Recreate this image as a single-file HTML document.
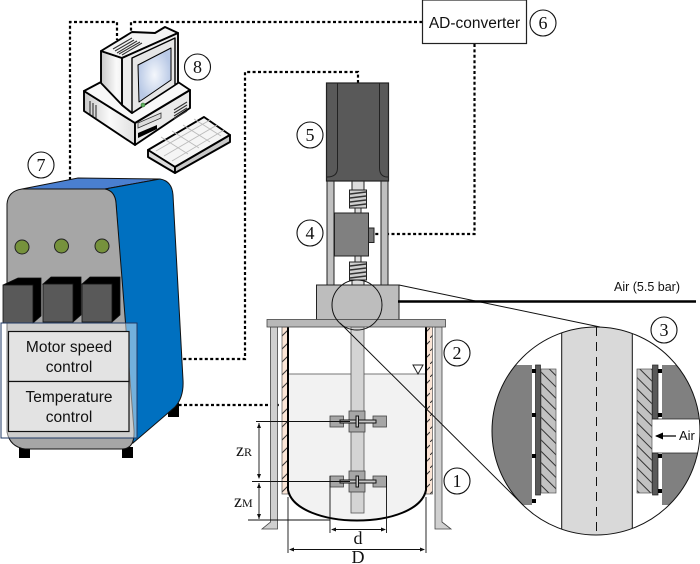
<!DOCTYPE html>
<html><head><meta charset="utf-8"><style>html,body{margin:0;padding:0;background:#fff}svg{display:block}
text{font-family:"Liberation Sans",sans-serif;fill:#111}
.n{font-family:"Liberation Serif",serif;font-size:18px;text-anchor:middle}
.s{font-family:"Liberation Serif",serif;font-size:18px}
.d{fill:none;stroke:#000;stroke-width:2.200;stroke-dasharray:3 2.400}
</style></head><body>
<svg width="700" height="564" viewBox="0 0 700 564" xmlns="http://www.w3.org/2000/svg">
<defs>
<pattern id="h1" width="8" height="8" patternUnits="userSpaceOnUse" patternTransform="rotate(45)"><rect width="8" height="8" fill="#c2c2c2"/><rect width="8" height="1" fill="#333"/></pattern>
<pattern id="jk" width="10" height="13" patternUnits="userSpaceOnUse"><rect width="10" height="13" fill="#fbe5d6"/><path d="M0 13L10 3" stroke="#333" stroke-width="1"/></pattern>
<radialGradient id="scr"><stop offset="0" stop-color="#f4f7fc"/><stop offset="1" stop-color="#b9c9e6"/></radialGradient>
<linearGradient id="gb" x1="0" x2="1"><stop offset="0" stop-color="#c8c8c8"/><stop offset=".5" stop-color="#fafafa"/><stop offset="1" stop-color="#e0e0e0"/></linearGradient>
<clipPath id="cc"><circle cx="596" cy="431" r="104"/></clipPath>
</defs>

<!-- dotted wires -->
<path class="d" d="M70 180V22H117V40"/>
<path class="d" d="M131 36V22H423"/>
<path class="d" d="M474.500 44V234H374"/>
<path class="d" d="M358 83V72H245V359H130"/>
<path class="d" d="M130 405H279"/>

<!-- AD converter -->
<rect x="422.500" y="0" width="104" height="43.500" fill="#fff" stroke="#222" stroke-width="1.200"/>
<text x="474.500" y="28" font-size="15.500" text-anchor="middle">AD-converter</text>

<!-- Computer -->
<g stroke="#000" stroke-width="1.900" stroke-linejoin="round">
<polygon points="84,91 135,123 135,145 84,111" fill="url(#gb)"/>
<polygon points="135,123 190,90 190,108 135,145" fill="#eaeaea"/>
<polygon points="84,91 101,82 178,82 190,90 135,123" fill="#f8f8f8"/>
<polygon points="101,51 122,58 132,113 122,105 101,83" fill="url(#gb)"/>
<polygon points="101,51 132,32 155,33 165,27 178,33 122,58" fill="#f3f3f3"/>
<polygon points="122,58 178,33 178,83 132,113 122,105" fill="#ededed"/>
<polygon points="132,58 175,38 175,85 132,113" fill="#e6e6e6" stroke-width="1.400"/>
<polygon points="138,65 171,48 171,80 139,102" fill="url(#scr)" stroke-width="1"/>
<polygon points="148,150 204,117 230,135 175,167" fill="#f5f5f5"/>
<polygon points="148,150 175,167 175,173 148,157" fill="#dcdcdc"/>
<polygon points="175,167 230,135 230,142 175,173" fill="#c9c9c9"/>
</g>
<circle cx="143" cy="105" r="2" fill="#5fb05f" stroke="#2b6b2b" stroke-width=".6"/>
<g stroke="#333" stroke-width="1.100">
<path d="M113 49L132 38M115 51L134 40M117 53L137 41M119 54L140 42M122 55L142 43"/>
<path d="M174 110L187 102M174 113L187 105M174 116L187 108M174 119L187 111"/>
<path d="M90 101V114M93 103V116M96 105V118"/>
</g>
<polygon points="138,123 161,113 161,118 138,128" fill="#ddd" stroke="#333" stroke-width=".8"/>
<polygon points="138,133 157,125 157,129 138,138" fill="#000"/>
<g stroke="#bbb" stroke-width=".9">
<path d="M156 151L210 120M164 156L217 125M172 161L224 130M161 137L188 154M172 131L199 148M183 125L210 142M194 119L221 136"/>
</g>

<!-- Control cabinet -->
<rect x="19" y="447" width="11" height="11" fill="#000"/>
<rect x="122" y="447" width="11" height="11" fill="#000"/>
<rect x="168" y="403" width="11" height="14" fill="#000"/>
<path d="M22 189L78 178L160 179L105 189Z" fill="#4a7fd0" stroke="#111" stroke-width="1"/>
<path d="M105 189L160 179Q172 181 173 195L183 380Q184 397 175 407L133 443L116 203Q115 191 105 189Z" fill="#0070c0" stroke="#111" stroke-width="1"/>
<path d="M22 189H105Q115 191 116 203L134 430Q135 449 122 449H25Q10 447 7 432V204Q8 191 22 189Z" fill="#a6a6a6" stroke="#111" stroke-width="1"/>
<g fill="#76923c" stroke="#222" stroke-width="1"><circle cx="22" cy="247" r="7"/><circle cx="61.500" cy="246" r="7"/><circle cx="102" cy="246" r="7"/></g>
<g stroke="#111" stroke-width=".8">
<path d="M3 285L18 278H41V316L33 323V285Z" fill="#000"/><rect x="3" y="285" width="30" height="38" fill="#595959"/>
<path d="M43 284L51 277H81V315L73 322V284Z" fill="#000"/><rect x="43" y="284" width="30" height="38" fill="#595959"/>
<path d="M82 284L90 277H120V315L112 322V284Z" fill="#000"/><rect x="82" y="284" width="30" height="38" fill="#595959"/>
</g>
<rect x="1" y="323" width="136" height="115" fill="#fff" fill-opacity=".45" stroke="#1f3864" stroke-width="1"/>
<rect x="8.500" y="331.500" width="120.500" height="50" fill="#e3e3e3" stroke="#111" stroke-width="1.200"/>
<rect x="8.500" y="381.500" width="120.500" height="50" fill="#e3e3e3" stroke="#111" stroke-width="1.200"/>
<g font-size="15.500" text-anchor="middle">
<text x="69" y="352">Motor speed</text><text x="69" y="372">control</text>
<text x="69" y="402">Temperature</text><text x="69" y="422">control</text>
</g>

<!-- Stirrer column -->
<g stroke="#222" stroke-width="1">
<rect x="327" y="181" width="7" height="104" fill="#c0c0c0"/>
<rect x="381" y="181" width="7" height="104" fill="#c0c0c0"/>
<rect x="352" y="181" width="12" height="10" fill="#dcdcdc"/>
<rect x="349.500" y="190" width="17" height="18" fill="#cfcfcf"/>
<path d="M350 194L366 192M350 198L366 196M350 202L366 200M350 206L366 204" stroke="#333" stroke-width="1.500"/>
<rect x="355" y="208" width="6" height="5" fill="#dcdcdc"/>
<rect x="355" y="256" width="6" height="6" fill="#dcdcdc"/>
<rect x="349.500" y="262" width="17" height="18" fill="#cfcfcf"/>
<path d="M350 266L366 264M350 270L366 268M350 274L366 272M350 278L366 276" stroke="#333" stroke-width="1.500"/>
<rect x="352" y="280" width="12" height="5" fill="#dcdcdc"/>
<rect x="334.500" y="213" width="34" height="43" fill="#808080"/>
<rect x="368.500" y="228" width="5.500" height="14.500" fill="#777"/>
<rect x="326.500" y="83" width="62" height="98" fill="#595959" stroke-width="1.200"/>
<path d="M337.500 83V168Q337.500 177 327 177M379.500 83V168Q379.500 177 388 177" fill="none"/>
<rect x="316.500" y="285" width="82.500" height="35" fill="#bdbdbd"/>
</g>

<!-- Vessel -->
<rect x="282" y="327" width="6" height="167" fill="url(#jk)" stroke="#555" stroke-width=".7"/>
<rect x="426" y="327" width="6.500" height="167" fill="url(#jk)" stroke="#555" stroke-width=".7"/>
<path d="M288 374H426V490C422 510 390 520.500 357 520.500C325 520.500 292 510 288 490Z" fill="#f2f2f2"/>
<path d="M288 374H426" stroke="#777" stroke-width="1"/>
<rect x="351" y="327" width="13" height="186" fill="#d4d4d4" stroke="#555" stroke-width=".8"/>
<path d="M288 327V490C292 510 325 520.500 357 520.500C390 520.500 422 510 426 490V327" fill="none" stroke="#000" stroke-width="2"/>
<g stroke="#444" stroke-width=".8">
<path d="M270.500 327H277.500V529H262L270.500 522Z" fill="#d0d0d0"/>
<path d="M435 327H442V522L451 529H435Z" fill="#d0d0d0"/>
<rect x="267" y="319.500" width="178.500" height="7.500" fill="#b8b8b8"/>
</g>
<polygon points="413,365 423,365 418,374" fill="#fff" stroke="#222" stroke-width="1"/>
<!-- impellers -->
<g stroke="#444" stroke-width=".8" fill="#a6a6a6">
<rect x="349" y="411" width="16" height="21"/><rect x="330" y="416" width="13.500" height="11"/><rect x="373" y="416" width="13.500" height="11"/>
<rect x="349" y="471" width="16" height="21"/><rect x="330" y="476" width="13.500" height="11"/><rect x="373" y="476" width="13.500" height="11"/>
</g>
<g stroke="#111" stroke-width="1" fill="#c8c8c8">
<rect x="340" y="420" width="36" height="3"/><rect x="356" y="416" width="2.500" height="11"/>
<rect x="340" y="480" width="36" height="3"/><rect x="356" y="476" width="2.500" height="11"/>
</g>
<!-- dimensions -->
<g stroke="#111" stroke-width=".9" fill="none">
<path d="M256 421.500H350M252 481.500H350M248 520H330"/>
<path d="M259 423V478M259 483V519"/>
<path d="M330 476V533M386.500 476V533"/>
<path d="M332 529.500H385"/>
<path d="M288 497V553M426 497V553"/>
<path d="M290 549.500H424"/>
</g>
<g fill="#111">
<path d="M259 423l-2 5h4zM259 479l-2-5h4zM259 483l-2 5h4zM259 519l-2-5h4z"/>
<path d="M331 529.500l5-2v4zM386 529.500l-5-2v4z"/>
<path d="M289 549.500l5-2v4zM425 549.500l-5-2v4z"/>
</g>
<text class="s" x="236" y="456">z<tspan font-size="12">R</tspan></text>
<text class="s" x="234" y="507">z<tspan font-size="12">M</tspan></text>
<text class="s" x="358" y="544" text-anchor="middle">d</text>
<text class="s" x="358" y="563" text-anchor="middle">D</text>

<!-- Zoom callout -->
<path d="M399 285L600 327M340 323L523 505" stroke="#111" stroke-width="1" fill="none"/>
<circle cx="357" cy="305" r="25" fill="none" stroke="#111" stroke-width="1"/>
<path d="M398 301.500H696" stroke="#000" stroke-width="2.500"/>
<text x="647" y="291" font-size="12.500" text-anchor="middle">Air (5.5 bar)</text>

<!-- Detail circle -->
<circle cx="596" cy="431" r="104" fill="#fff"/>
<g clip-path="url(#cc)">
<rect x="480" y="365" width="52" height="140" fill="#808080"/>
<rect x="662" y="365" width="40" height="54" fill="#808080"/>
<rect x="662" y="453" width="40" height="52" fill="#808080"/>
<rect x="561.700" y="320" width="70.600" height="220" fill="#d9d9d9" stroke="#111" stroke-width="1"/>
<path d="M596.500 327V535" stroke="#111" stroke-width="1" stroke-dasharray="9 6"/>
<rect x="541" y="369" width="15" height="124" fill="url(#h1)" stroke="#555" stroke-width=".7"/>
<rect x="637" y="369" width="15" height="124" fill="url(#h1)" stroke="#555" stroke-width=".7"/>
<rect x="535.500" y="365" width="5" height="130" fill="#595959" stroke="#222" stroke-width=".7"/>
<rect x="652.500" y="365" width="5.500" height="54" fill="#595959" stroke="#222" stroke-width=".7"/>
<rect x="652.500" y="453" width="5.500" height="42" fill="#595959" stroke="#222" stroke-width=".7"/>
<g fill="#000">
<rect x="532" y="369" width="4" height="4"/><rect x="532" y="413" width="4" height="4"/><rect x="532" y="454" width="4" height="4"/><rect x="532" y="499" width="4" height="4"/>
<rect x="658" y="369" width="4" height="4"/><rect x="658" y="413" width="4" height="4"/><rect x="658" y="454" width="4" height="4"/><rect x="658" y="489" width="4" height="4"/>
</g>
<path d="M652 419H702M652 453H702" stroke="#222" stroke-width=".8"/>
<path d="M656 436H676" stroke="#000" stroke-width="1.300"/>
<path d="M655 436l8-3.500v7z" fill="#000"/>
<text x="679" y="440" font-size="13">Air</text>
</g>
<circle cx="596" cy="431" r="104" fill="none" stroke="#111" stroke-width="1"/>

<!-- Number markers -->
<g fill="#fff" stroke="#111" stroke-width="1.100">
<circle cx="197.500" cy="67" r="13"/><circle cx="41" cy="165" r="13"/><circle cx="310" cy="135" r="13"/><circle cx="310" cy="233" r="13"/><circle cx="457" cy="353" r="13"/><circle cx="457" cy="481" r="13"/><circle cx="664" cy="330" r="13"/><circle cx="543" cy="23" r="13"/>
</g>
<text class="n" x="197.500" y="73">8</text><text class="n" x="41" y="171">7</text><text class="n" x="310" y="141">5</text><text class="n" x="310" y="239">4</text><text class="n" x="457" y="359">2</text><text class="n" x="457" y="487">1</text><text class="n" x="664" y="336">3</text><text class="n" x="543" y="29">6</text>
</svg>
</body></html>
